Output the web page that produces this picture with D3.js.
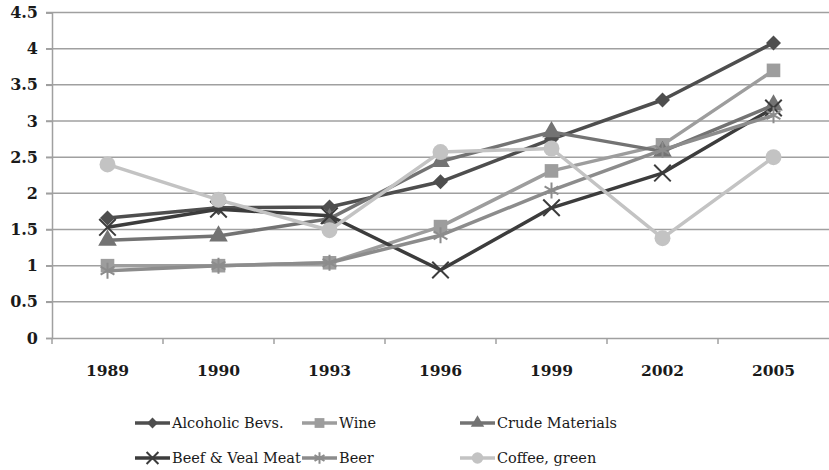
<!DOCTYPE html>
<html><head><meta charset="utf-8">
<script src="https://cdn.jsdelivr.net/npm/d3@7/dist/d3.min.js"></script>
<style>html,body{margin:0;padding:0;background:#fff}</style>
</head><body><svg id="c" width="829" height="470"></svg>
<script>
const categories = ["1989","1990","1993","1996","1999","2002","2005"];
const yTicks = [0,0.5,1,1.5,2,2.5,3,3.5,4,4.5];
const seriesNames = ["Alcoholic Bevs.","Wine","Crude Materials","Beef & Veal Meat","Beer","Coffee, green"];
const alcoholic = [1.66,1.80,1.81,2.16,2.75,3.29,4.08];
const wine      = [1.00,1.00,1.04,1.54,2.31,2.67,3.70];
const crude     = [1.35,1.41,1.65,2.44,2.85,2.58,3.22];
const beef      = [1.53,1.78,1.69,0.94,1.80,2.28,3.18];
const beer      = [0.93,1.00,1.04,1.42,2.04,2.60,3.08];
const coffee    = [2.40,1.91,1.49,2.57,2.62,1.38,2.50];

const seriesData = [alcoholic, wine, crude, beef, beer, coffee];
const colors = ["#4e4e4e","#9d9d9d","#737373","#3c3c3c","#8c8c8c","#c3c3c3"];
const markers = ["diamond","square","triangle","times","asterisk","circle"];

const svg = d3.select("#c");
const M = {left:52, right:829, top:12.5, bottom:338};
const x = d3.scaleBand().domain(categories).range([M.left, M.right]).padding(0);
const y = d3.scaleLinear().domain([0,4.5]).range([M.bottom, M.top]);
const font = "'DejaVu Serif', serif";

// gridlines
svg.append("g").selectAll("line").data(yTicks.filter(d=>d>0)).join("line")
  .attr("x1", M.left-6).attr("x2", M.right).attr("y1", d=>y(d)).attr("y2", d=>y(d))
  .attr("stroke","#a0a0a0").attr("stroke-width",1.5);

// y axis
const ya = svg.append("g").attr("transform",`translate(${M.left},0)`)
  .call(d3.axisLeft(y).tickValues(yTicks).tickSize(6).tickFormat(d=>String(d)));
ya.select(".domain").attr("stroke","#a0a0a0").attr("stroke-width",1.5);
ya.selectAll(".tick line").attr("stroke","#a0a0a0").attr("stroke-width",1.5);
ya.selectAll("text").attr("font-family",font).attr("font-size",16).attr("font-weight","bold")
  .attr("fill","#1a1a1a").attr("x",-14);

// x axis
const xa = svg.append("g").attr("transform",`translate(0,${M.bottom})`)
  .call(d3.axisBottom(x).tickSize(0).tickPadding(27));
xa.select(".domain").attr("stroke","#a0a0a0").attr("stroke-width",1.5);
xa.selectAll("text").attr("font-family",font).attr("font-size",15.5).attr("font-weight","bold").attr("fill","#1a1a1a");
svg.append("g").selectAll("line").data(categories).join("line")
  .attr("x1", d=>x(d)).attr("x2", d=>x(d)).attr("y1", M.bottom).attr("y2", M.bottom+6)
  .attr("stroke","#a0a0a0").attr("stroke-width",1.5);

function symPath(kind, scale){
  if (kind==="diamond"){
    const r = 7.5*scale;
    return `M0,${-r}L${r},0L0,${r}L${-r},0Z`;
  }
  const sizes = {square:185, triangle:150, times:180, asterisk:180, circle:200};
  const t = {square:d3.symbolSquare, triangle:d3.symbolTriangle,
             times:d3.symbolTimes, asterisk:d3.symbolAsterisk, circle:d3.symbolCircle}[kind];
  return d3.symbol(t, sizes[kind]*scale*scale)();
}
function drawMarker(g, kind, color, cx, cy, scale){
  const p = g.append("path").attr("d", symPath(kind, scale))
    .attr("transform",`translate(${cx},${cy})`);
  if (kind==="times"||kind==="asterisk") p.attr("fill","none").attr("stroke",color).attr("stroke-width",2);
  else p.attr("fill",color);
}

const line = d3.line().x((d,i)=>x(categories[i])+x.bandwidth()/2).y(d=>y(d));
seriesData.forEach((vals, s) => {
  const g = svg.append("g");
  g.append("path").datum(vals).attr("d", line).attr("fill","none")
    .attr("stroke", colors[s]).attr("stroke-width",3.5).attr("stroke-linejoin","round");
  vals.forEach((v,i)=> drawMarker(g, markers[s], colors[s], x(categories[i])+x.bandwidth()/2, y(v), 1));
});

// legend
const legX = [135, 302, 460];
const legY = [423, 458];
seriesNames.forEach((n, s) => {
  const lx = legX[s%3], ly = legY[Math.floor(s/3)];
  const g = svg.append("g");
  g.append("line").attr("x1",lx).attr("x2",lx+35).attr("y1",ly).attr("y2",ly)
    .attr("stroke",colors[s]).attr("stroke-width",3.5);
  drawMarker(g, markers[s], colors[s], lx+17.5, ly, 0.72);
  g.append("text").attr("x",lx+37).attr("y",ly).attr("dy","0.35em")
    .attr("font-family",font).attr("font-size",14.5).attr("fill","#1a1a1a").text(n);
});
</script></body></html>
